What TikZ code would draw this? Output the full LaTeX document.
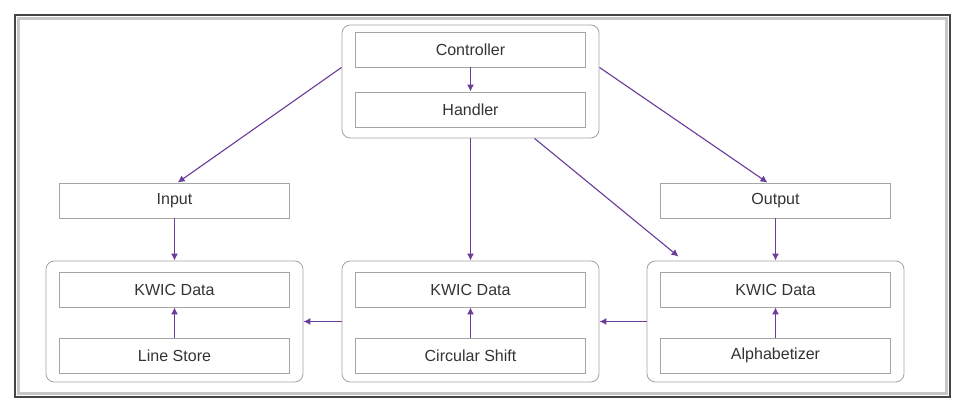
\documentclass[tikz,border=0pt]{standalone}
\usepackage{fontspec}
\setmainfont{Liberation Sans}
\usetikzlibrary{
  arrows.meta,
  calc,
}
\definecolor{cArrow}{HTML}{6A3D9A}
\definecolor{cBorder}{HTML}{A5A5A5}
\definecolor{cText}{HTML}{333333}
\definecolor{cFrame}{HTML}{454545}

\tikzset{
  box/.style={draw=cBorder, line width=0.6pt, minimum width=5.75cm, minimum height=0.875cm,
      inner sep=0pt, text=cText, font=\fontsize{11.4}{13}\selectfont},
  group/.style={draw=cBorder, line width=0.6pt, rounded corners=6pt, inner sep=0pt, minimum width=6.425cm},
  flow/.style={cArrow, line width=0.8pt, -{Latex[length=5pt,width=5pt]}},
}

\begin{document}
\begin{tikzpicture}[x=0.025cm,y=-0.025cm]
  \useasboundingbox (0,0) rectangle (965,412);
  \draw[cFrame, line width=1.2pt] (15,15) rectangle (950,397);
  \draw[black!22, line width=2pt] (18.5,18.5) rectangle (946.5,393.5);

  \node[group, minimum height=2.825cm] (gt) at (470.5,81.5) {};
  \node[box] (ctrl) at (470.5,49.5) {Controller};
  \node[box] (hand) at (470.5,109.5) {Handler};

  \foreach \g/\x/\lbl in {l/174.5/Line Store, m/470.5/Circular Shift, r/775.5/Alphabetizer}{
      \node[group, minimum height=3.025cm] (g\g) at (\x,321.5) {};
      \node[box] (k\g) at (\x,289.5) {KWIC Data};
      \node[box] (s\g) at (\x,355.5) {\lbl};
      \draw[flow] (s\g) -- (k\g);
    }

  \node[box] (in) at (174.5,200.5) {Input};
  \node[box] (out) at (775.5,200.5) {Output};

  \draw[flow] (ctrl) -- (hand);
  \draw[flow] (gt.west |- ctrl.south) -- ([xshift=0.08cm]in.north);
  \draw[flow] (gt.east |- ctrl.south) -- ([xshift=-0.2cm]out.north);
  \draw[flow] (gt) -- (gm);
  \draw[flow] ([xshift=1.6cm]gt.south) -- ([xshift=0.8cm,yshift=0.1cm]gr.north west);
  \draw[flow] (in) -- (gl);
  \draw[flow] (out) -- (gr);
  \draw[flow] (gm) -- (gl);
  \draw[flow] (gr) -- (gm);
\end{tikzpicture}
\end{document}
